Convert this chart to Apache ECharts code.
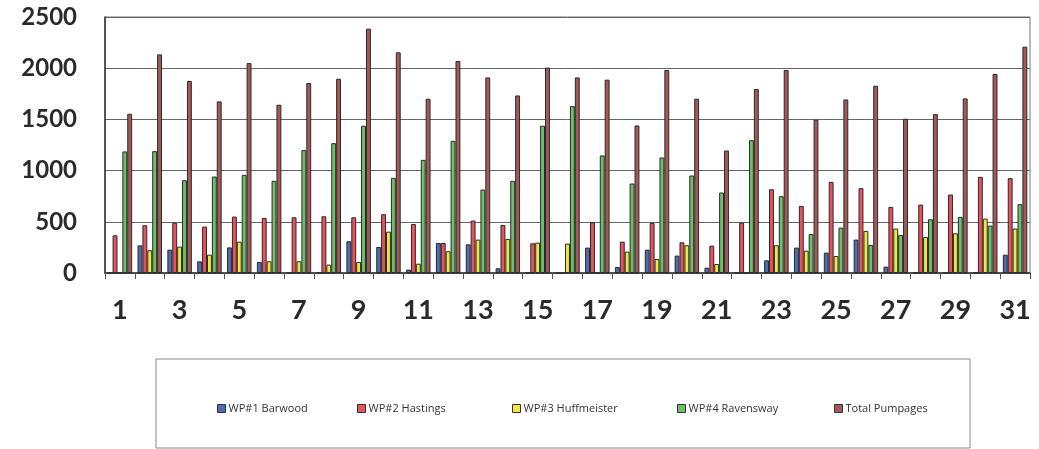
<!DOCTYPE html>
<html>
<head>
<meta charset="utf-8">
<script src="https://cdn.jsdelivr.net/npm/echarts@6/dist/echarts.min.js"></script>
<style>
html,body{margin:0;padding:0;background:#fff;}
#c{width:1039px;height:449px;}
</style>
</head>
<body>
<div id="c"></div>
<script>
const days = ['1','2','3','4','5','6','7','8','9','10','11','12','13','14','15','16','17','18','19','20','21','22','23','24','25','26','27','28','29','30','31'];
const yTicks = [0, 500, 1000, 1500, 2000, 2500];
const seriesNames = ['WP#1 Barwood', 'WP#2 Hastings', 'WP#3 Huffmeister', 'WP#4 Ravensway', 'Total Pumpages'];
const barwood     = [0, 270, 228, 114, 250, 108, 0, 0, 310, 254, 33, 293, 280, 46, 0, 0, 248, 59, 228, 170, 52, 0, 124, 248, 199, 326, 62, 0, 0, 0, 179];
const hastings    = [368, 466, 492, 453, 551, 538, 544, 554, 544, 574, 479, 293, 512, 469, 290, 0, 496, 306, 489, 300, 267, 492, 818, 655, 890, 828, 645, 668, 766, 939, 926];
const huffmeister = [0, 222, 258, 179, 306, 114, 114, 82, 108, 404, 91, 212, 326, 333, 297, 287, 0, 209, 137, 271, 88, 0, 271, 218, 166, 411, 434, 352, 388, 531, 434];
const ravensway   = [1187, 1190, 906, 942, 958, 900, 1200, 1268, 1438, 929, 1105, 1291, 815, 900, 1438, 1630, 1148, 874, 1128, 952, 786, 1297, 750, 381, 443, 274, 372, 525, 548, 463, 672];
const total       = [1555, 2135, 1875, 1676, 2050, 1643, 1855, 1897, 2386, 2155, 1702, 2070, 1910, 1734, 2006, 1910, 1888, 1441, 1982, 1702, 1196, 1796, 1982, 1496, 1695, 1829, 1506, 1552, 1705, 1943, 2210];

const colors = ['#4a6db5', '#e8525c', '#f2e640', '#6cc06a', '#a35a56'];
const values = [barwood, hastings, huffmeister, ravensway, total];
const legendX = [212, 352, 507, 672, 829];

const chart = echarts.init(document.getElementById('c'));
const series = seriesNames.map((n, i) => ({
  name: n,
  type: 'bar',
  data: values[i],
  barGap: '0%',
  barCategoryGap: '18%',
  itemStyle: { color: colors[i], borderColor: '#2a2a2a', borderWidth: 1 },
  emphasis: { disabled: true }
}));
const legends = seriesNames.map((n, i) => ({
  data: [n],
  left: legendX[i],
  top: 398,
  itemWidth: 8,
  itemHeight: 8,
  itemGap: 4,
  icon: 'rect',
  textStyle: { fontFamily: 'Open Sans', fontSize: 11, color: '#333', padding: [0, 0, 0, -2] },
  itemStyle: { borderColor: '#333', borderWidth: 1 },
  selectedMode: false
}));

chart.setOption({
  animation: false,
  color: colors,
  grid: { left: 105, right: 9, top: 17, bottom: 176, show: true, borderColor: '#777', borderWidth: 1 },
  legend: legends,
  xAxis: {
    type: 'category',
    data: days,
    boundaryGap: true,
    axisLine: { lineStyle: { color: '#333', width: 1.5 } },
    axisTick: { show: true, interval: 0, length: 6, lineStyle: { color: '#555' } },
    axisLabel: { interval: 1, margin: 24, fontFamily: 'Lato', fontWeight: 'bold', fontSize: 27, color: '#2a2a2a' }
  },
  yAxis: {
    type: 'value',
    min: yTicks[0],
    max: yTicks[yTicks.length - 1],
    interval: 500,
    axisLine: { show: true, lineStyle: { color: '#333', width: 1.5 } },
    axisTick: { show: false },
    splitLine: { lineStyle: { color: '#666', width: 1 } },
    axisLabel: { margin: 28, fontFamily: 'Lato', fontWeight: 'bold', fontSize: 24, color: '#2a2a2a', formatter: v => String(v) }
  },
  graphic: [{
    type: 'rect',
    shape: { x: 156, y: 359, width: 814, height: 89 },
    style: { fill: 'none', stroke: '#888', lineWidth: 1 },
    z: -1
  }],
  series: series
});
</script>
</body>
</html>
